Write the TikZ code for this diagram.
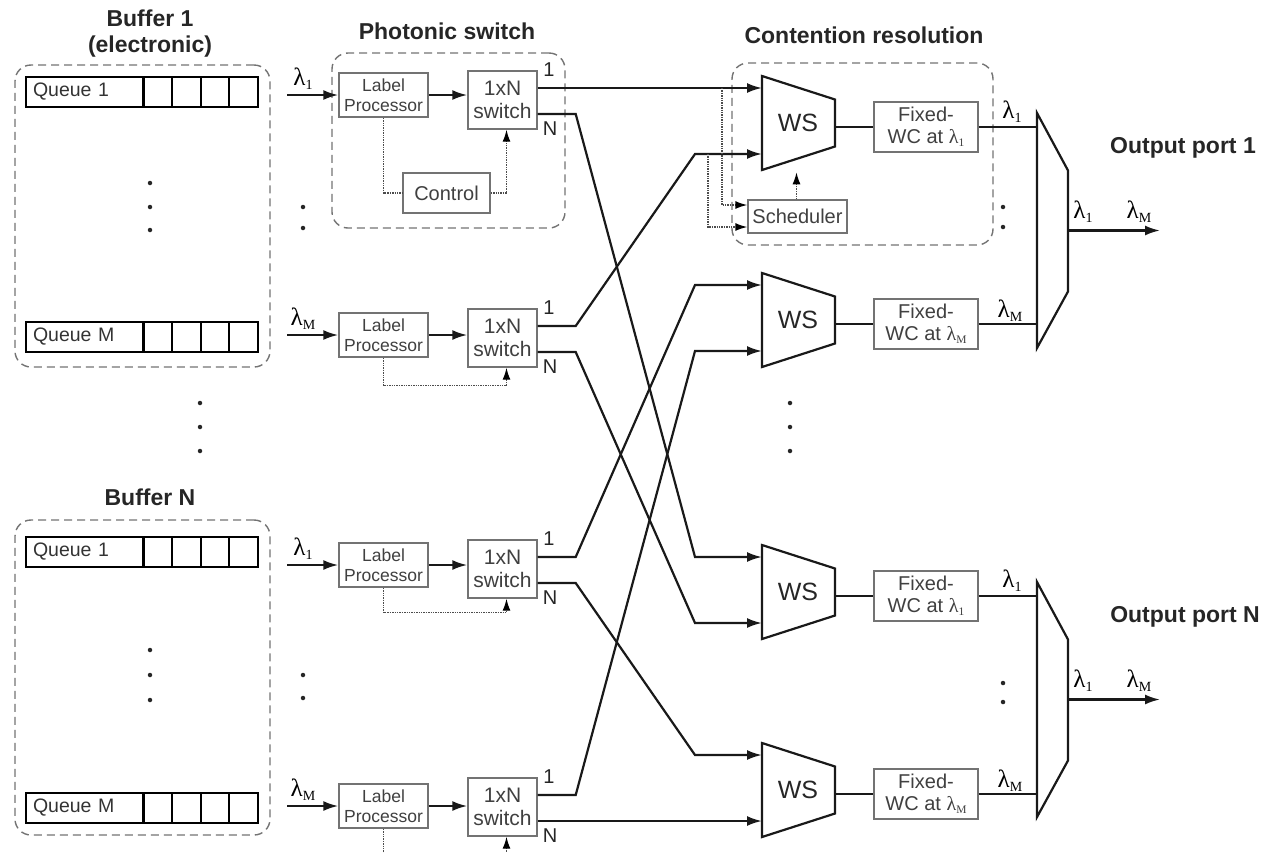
\documentclass[tikz,border=0pt]{standalone}
\usepackage{fontspec}
\setmainfont{Liberation Sans}
\newfontfamily\seriffont{Liberation Serif}
\usetikzlibrary{arrows.meta,calc}
\newcommand{\Lmb}[1]{{\seriffont\fontsize{25}{25}\selectfont λ\raisebox{-4pt}{\fontsize{14}{14}\selectfont #1}}}
\newcommand{\Lmbsm}[1]{{\seriffont\fontsize{20}{20}\selectfont λ\raisebox{-3pt}{\fontsize{11.5}{11.5}\selectfont #1}}}
\tikzset{
  gbox/.style={draw=black!55, line width=1.4pt, fill=white, text=black!75, inner sep=0pt, align=center, font=\fontsize{20}{23}\selectfont},
  lpbox/.style={gbox, minimum width=89pt, minimum height=44pt, font=\fontsize{17.5}{20}\selectfont},
  swbox/.style={gbox, minimum width=69pt, minimum height=58pt, font=\fontsize{21}{23}\selectfont},
  wcbox/.style={gbox, minimum width=104pt, minimum height=50pt, font=\fontsize{20}{22}\selectfont},
  group/.style={draw=black!55, dash pattern=on 8pt off 5pt, line width=1.4pt, rounded corners=16pt, inner sep=0pt},
  wire/.style={line width=2.2pt, draw=black!90},
  arr/.style={wire, -{Latex[length=15pt,width=10pt]}},
  ctrl/.style={densely dotted, line width=1.4pt, draw=black!70},
  ctip/.style={ctrl, -{Latex[length=12pt,width=8pt,black]}},
  title/.style={font=\fontsize{23}{26}\selectfont\bfseries, text=black!85, inner sep=0pt},
  qlab/.style={draw=black, line width=2pt, minimum height=30pt, text width=104pt, inner xsep=7pt, inner ysep=0pt, align=left, font=\fontsize{19.5}{20}\selectfont, text=black!80},
  qcell/.style={draw=black, line width=2pt},
  plabel/.style={font=\fontsize{20}{20}\selectfont, text=black!85, inner sep=0pt},
  lbl/.style={inner sep=0pt},
  dot/.style={fill=black!85, circle, inner sep=0pt, minimum size=4.5pt},
  wsline/.style={line width=2.2pt, draw=black!90},
}
\newcommand{\queuebox}[3]{%
  \node[qlab, anchor=west] (#1) at (25,#2) {#3};
  \foreach \i in {0,...,3} {\draw[qcell] (143+\i*28.75,#2-15) rectangle ++(28.75,30);}
}
\newcommand{\wsblock}[2]{%
  \draw[wsline] (762,#2-47) -- (835,#2-23.5) -- (835,#2+23.5) -- (762,#2+47) -- cycle;
  \node[font=\fontsize{25}{25}\selectfont, text=black!85] (#1) at (798,#2) {WS};
  \coordinate (#1-a) at (762,#2-35);
  \coordinate (#1-b) at (762,#2+31);
  \coordinate (#1-o) at (835,#2+4);
}
\newcommand{\muxblock}[2]{%
  \draw[wsline] (1037,#2-117.5) -- (1068,#2-60) -- (1068,#2+61) -- (1037,#2+117.5) -- cycle;
  \coordinate (#1-o) at (1068,#2);
}
\begin{document}
\begin{tikzpicture}[x=1pt,y=-1pt]
\useasboundingbox (0,0) rectangle (1268,852);

% titles
\node[title] (t-b1) at (150,18) {Buffer 1};
\node[title] (t-el) at (150,47) {(electronic)};
\node[title] (t-ps) at (447,31) {Photonic switch};
\node[title] (t-cr) at (864,35) {Contention resolution};
\node[title] (t-o1) at (1183,148) {Output port 1};
\node[title] (t-on) at (1185,617) {Output port N};
\node[title] (t-bn) at (150,497) {Buffer N};

% buffers
\node[group, minimum width=255pt, minimum height=302pt] (buf1) at (142.5,216) {};
\node[group, minimum width=255pt, minimum height=315pt] (bufn) at (142.5,677.5) {};
\queuebox{q11}{92}{Queue 1}
\queuebox{q1m}{337}{Queue M}
\queuebox{qn1}{552}{Queue 1}
\queuebox{qnm}{808}{Queue M}
\foreach \y in {183,207,230,650,675,700} {\node[dot] at (150,\y) {};}
\foreach \y in {403,427,451} {\node[dot] at (200,\y) {};}

% photonic switch group
\node[group, minimum width=233pt, minimum height=175pt] (psg) at (448.5,140.5) {};
% contention group
\node[group, minimum width=261pt, minimum height=182pt] (crg) at (862.5,154) {};

% label processors and switches
\foreach \n/\ly/\sy/\lam in {1/95/100/1, 2/335/338/M, 3/565/569/1, 4/806/807/M} {
  \node[lpbox] (lp\n) at (383.5,\ly) {Label\\Processor};
  \node[swbox] (s\n) at (502.5,\sy) {1xN\\switch};
  \coordinate (in\n) at (287,\ly);
  \node[lbl] (lam\n) at (303,\ly-16) {\Lmb{\lam}};
  \draw[arr] (in\n) -- (lp\n);
  \draw[arr] (lp\n.east) -- (lp\n.east -| s\n.west);
  \path (s\n.east) ++(0,-12) coordinate (s\n-1);
  \path (s\n.east) ++(0,14) coordinate (s\n-N);
  \node[plabel] (p1\n) at (549,\sy-30) {1};
  \node[plabel] (pN\n) at (550,\sy+29) {N};
}
\node[gbox, minimum width=87pt, minimum height=40pt] (ctl) at (446.5,193) {Control};
\draw[ctrl] (lp1.south) |- (ctl.west);
\draw[ctip] (ctl.east) -| ([xshift=4pt]s1.south);
\draw[ctip] (lp2.south) -- ++(0,28) -| ([xshift=4pt]s2.south);
\draw[ctip] (lp3.south) -- ++(0,25) -| ([xshift=4pt]s3.south);
\draw[ctip] (lp4.south) -- ++(0,40) -| ([xshift=4pt]s4.south);
\foreach \y in {207,228,675,698} {\node[dot] at (303,\y) {};}

% WS blocks
\wsblock{ws1}{123}
\wsblock{ws2}{320}
\wsblock{ws3}{592}
\wsblock{ws4}{790}
\foreach \y in {403,427,451} {\node[dot] at (790,\y) {};}

% interconnect
\draw[arr] (s1-1) -- (ws1-a);
\draw[arr] (s1-N) -- ++(38,0) -- ($(ws3-a)+(-67,0)$) -- (ws3-a);
\draw[arr] (s2-1) -- ++(38,0) -- ($(ws1-b)+(-67,0)$) -- (ws1-b);
\draw[arr] (s2-N) -- ++(38,0) -- ($(ws3-b)+(-67,0)$) -- (ws3-b);
\draw[arr] (s3-1) -- ++(38,0) -- ($(ws2-a)+(-67,0)$) -- (ws2-a);
\draw[arr] (s3-N) -- ++(38,0) -- ($(ws4-a)+(-67,0)$) -- (ws4-a);
\draw[arr] (s4-1) -- ++(38,0) -- ($(ws2-b)+(-67,0)$) -- (ws2-b);
\draw[arr] (s4-N) -- (ws4-b);

% scheduler
\node[gbox, minimum width=99pt, minimum height=33pt] (sch) at (797.5,216.5) {Scheduler};
\draw[ctip] ([xshift=-1pt]sch.north) -- ++(0,-27);
\path (ws1-a) ++(-40,0) coordinate (tap1);
\path (ws1-b) ++(-54,0) coordinate (tap2);
\draw[ctip] (tap1) |- ([yshift=11.5pt]sch.west);
\draw[ctip] (tap2) |- ([yshift=-10.5pt]sch.west);

% fixed wavelength converters
\foreach \n/\lam in {1/1, 2/M, 3/1, 4/M} {
  \path (ws\n-o) ++(91,0) node[wcbox] (wc\n) {Fixed-\\WC at \Lmbsm{\lam}};
  \draw[wire] (ws\n-o) -- (wc\n);
}

% multiplexers
\muxblock{mx1}{230.5}
\muxblock{mxn}{699.5}
\coordinate (mx1-a) at (1037,127);
\coordinate (mx1-b) at (1037,324);
\coordinate (mxn-a) at (1037,596);
\coordinate (mxn-b) at (1037,794);
\draw[wire] (wc1.east) -- (mx1-a);
\draw[wire] (wc2.east) -- (mx1-b);
\draw[wire] (wc3.east) -- (mxn-a);
\draw[wire] (wc4.east) -- (mxn-b);
\draw[arr] (mx1-o) -- ++(92,0);
\draw[arr] (mxn-o) -- ++(92,0);
\node[lbl] (l1a) at (1012,112) {\Lmb{1}};
\node[lbl] (l1b) at (1010,311) {\Lmb{M}};
\node[lbl] (l1c) at (1083,212) {\Lmb{1}};
\node[lbl] (l1d) at (1139,212) {\Lmb{M}};
\node[lbl] (lna) at (1012,581) {\Lmb{1}};
\node[lbl] (lnb) at (1010,781) {\Lmb{M}};
\node[lbl] (lnc) at (1083,681) {\Lmb{1}};
\node[lbl] (lnd) at (1139,681) {\Lmb{M}};
\foreach \y in {207,227,683,702} {\node[dot] at (1003,\y) {};}
\end{tikzpicture}
\end{document}
